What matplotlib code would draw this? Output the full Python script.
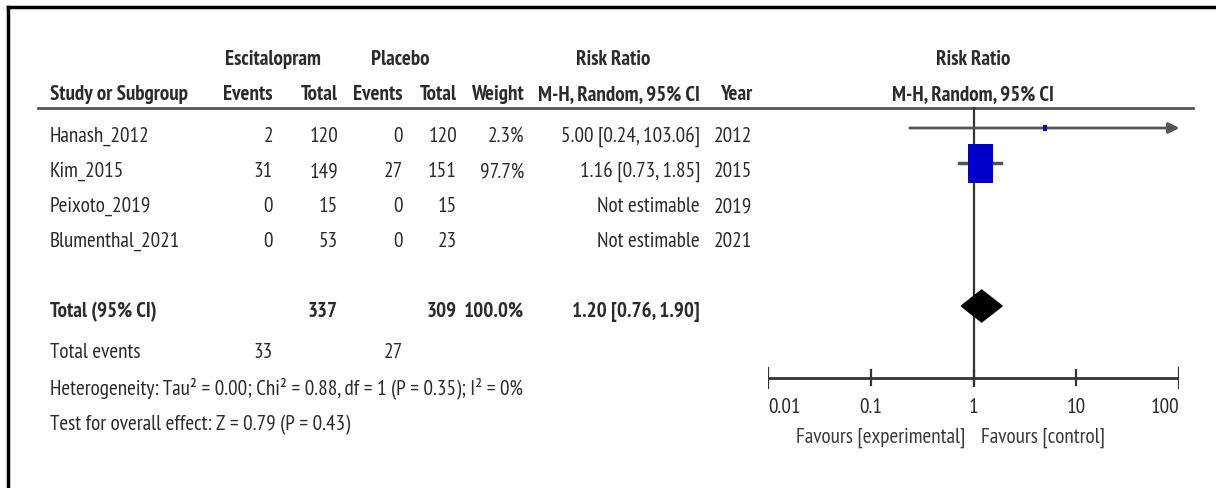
import numpy as np
import matplotlib
matplotlib.use("Agg")
import matplotlib.pyplot as plt
from matplotlib import font_manager as fm
from matplotlib.font_manager import FontProperties
from matplotlib.textpath import TextPath
from matplotlib.patches import Rectangle, Polygon

# ---- data ----
studies = ["Hanash_2012", "Kim_2015", "Peixoto_2019", "Blumenthal_2021"]
esc_events = [2, 31, 0, 0]
esc_total = [120, 149, 15, 53]
pla_events = [0, 27, 0, 0]
pla_total = [120, 151, 15, 23]
weights = [2.3, 97.7, None, None]
rr = [5.00, 1.16, None, None]
rr_lo = [0.24, 0.73, None, None]
rr_hi = [103.06, 1.85, None, None]
years = [2012, 2015, 2019, 2021]

total_esc = 337
total_pla = 309
total_weight = 100.0
total_rr, total_lo, total_hi = 1.20, 0.76, 1.90
events_esc, events_pla = 33, 27
heterogeneity = "Heterogeneity: Tau\u00b2 = 0.00; Chi\u00b2 = 0.88, df = 1 (P = 0.35); I\u00b2 = 0%"
overall = "Test for overall effect: Z = 0.79 (P = 0.43)"
tick_vals = [0.01, 0.1, 1, 10, 100]
tick_labels = ["0.01", "0.1", "1", "10", "100"]

# narrow sans, like the RevMan export
available = {f.name for f in fm.fontManager.ttflist}
family = "Liberation Sans"
for cand in ["Liberation Sans Narrow", "Arial Narrow", "PT Sans Narrow", "Asap Condensed",
             "Roboto Condensed", "Archivo Narrow"]:
    if cand in available:
        family = cand
        break
plt.rcParams["font.family"] = [family, "DejaVu Sans"]


def fit_size(s, px, weight="normal"):
    # font size that makes s about px pixels wide at 100 dpi
    w10 = TextPath((0, 0), s, size=10,
                   prop=FontProperties(family=family, weight=weight)).get_extents().width
    return 10 * px / (w10 * 100 / 72)


FS = fit_size(heterogeneity, 472)
FSB = fit_size("M-H, Random, 95% CI", 160, "bold")
TXT = "#2b2b2b"
LINE = "#555555"

fig = plt.figure(figsize=(12.16, 4.88), dpi=100)
ax = fig.add_axes([0, 0, 1, 1])
ax.set_xlim(0, 1216)
ax.set_ylim(488, 0)
ax.axis("off")

# frame (left + top)
ax.plot([8, 8], [488, 7], color="black", lw=2.5, solid_capstyle="projecting")
ax.plot([8, 1215], [7, 7], color="black", lw=2.5, solid_capstyle="projecting")


def t(x, y, s, ha="left", bold=False, color=TXT):
    ax.text(x, y, s, ha=ha, va="baseline", color=color,
            fontsize=FSB if bold else FS, fontweight="bold" if bold else "normal")


# headers
t(273, 65, "Escitalopram", ha="center", bold=True)
t(400, 65, "Placebo", ha="center", bold=True)
t(613, 65, "Risk Ratio", ha="center", bold=True)
t(973, 65, "Risk Ratio", ha="center", bold=True)
t(50, 100, "Study or Subgroup", bold=True)
t(273, 100, "Events", ha="right", bold=True)
t(338, 100, "Total", ha="right", bold=True)
t(403, 100, "Events", ha="right", bold=True)
t(457, 100, "Total", ha="right", bold=True)
t(524, 100, "Weight", ha="right", bold=True)
t(700, 100, "M-H, Random, 95% CI", ha="right", bold=True)
t(752, 100, "Year", ha="right", bold=True)
t(973, 100, "M-H, Random, 95% CI", ha="center", bold=True)
ax.plot([38, 1193], [108, 108], color=LINE, lw=2)

# study rows
row_base = [142, 177, 212, 247]
for i, name in enumerate(studies):
    yb = row_base[i]
    t(50, yb, name)
    t(273, yb, str(esc_events[i]), ha="right")
    t(338, yb, str(esc_total[i]), ha="right")
    t(403, yb, str(pla_events[i]), ha="right")
    t(457, yb, str(pla_total[i]), ha="right")
    if weights[i] is not None:
        t(524, yb, f"{weights[i]:.1f}%", ha="right")
        t(700, yb, f"{rr[i]:.2f} [{rr_lo[i]:.2f}, {rr_hi[i]:.2f}]", ha="right")
    else:
        t(700, yb, "Not estimable", ha="right")
    t(752, yb, str(years[i]), ha="right")

# totals
t(50, 317, "Total (95% CI)", bold=True)
t(338, 317, str(total_esc), ha="right", bold=True)
t(457, 317, str(total_pla), ha="right", bold=True)
t(524, 317, f"{total_weight:.1f}%", ha="right", bold=True)
t(700, 317, f"{total_rr:.2f} [{total_lo:.2f}, {total_hi:.2f}]", ha="right", bold=True)
t(50, 358, "Total events")
t(273, 358, str(events_esc), ha="right")
t(403, 358, str(events_pla), ha="right")
t(50, 394, heterogeneity)
t(50, 430, overall)

# ---- forest panel on a log scale ----
fx0, fx1 = 768, 1179
fax = fig.add_axes([fx0 / 1216, 0, (fx1 - fx0) / 1216, 1])
fax.set_xscale("log")
fax.set_xlim(tick_vals[0], tick_vals[-1])
fax.set_ylim(488, 0)
fax.axis("off")
fax.patch.set_alpha(0)
px_per_dec = (fx1 - fx0) / 4.0

mark_y = [128, 163, 198, 233]
kim_box_w = 25.0
for i in range(len(studies)):
    if rr[i] is None:
        continue
    y = mark_y[i]
    if rr_hi[i] > tick_vals[-1]:
        fax.annotate("", xy=(tick_vals[-1] * 1.01, y), xytext=(rr_lo[i], y),
                     arrowprops=dict(arrowstyle="-|>", color=LINE, lw=2,
                                     mutation_scale=16, shrinkA=0, shrinkB=0))
    else:
        fax.plot([rr_lo[i], rr_hi[i]], [y, y], color=LINE, lw=2.5)
    # box area proportional to weight
    w_px = kim_box_w * np.sqrt(weights[i] / 97.7)
    h_px = w_px * 39 / 25
    hw = w_px / 2 / px_per_dec
    c = np.log10(rr[i])
    fax.add_patch(Rectangle((10 ** (c - hw), y - h_px / 2),
                            10 ** (c + hw) - 10 ** (c - hw), h_px,
                            facecolor="#0000c8", edgecolor="none", zorder=3))

# vertical line of no effect
fax.plot([1, 1], [108, 386], color="#333333", lw=1.6, zorder=2)

# summary diamond
dy = 306
fax.add_patch(Polygon([(total_lo, dy), (total_rr, dy - 16), (total_hi, dy), (total_rr, dy + 16)],
                      closed=True, facecolor="black", edgecolor="black", zorder=4))

# axis
fax.plot([tick_vals[0], tick_vals[-1]], [378, 378], color="#333333", lw=2)
for k, (v, lab) in enumerate(zip(tick_vals, tick_labels)):
    top, bot = (368, 388) if k in (0, len(tick_vals) - 1) else (370, 385)
    fax.plot([v, v], [top, bot], color="#333333", lw=1.6)
    ha = "left" if k == 0 else ("right" if k == len(tick_vals) - 1 else "center")
    fax.text(v, 413, lab, ha=ha, va="baseline", color=TXT, fontsize=FS)

t(965, 443, "Favours [experimental]", ha="right", color="#3a3a3a")
t(981, 443, "Favours [control]", color="#3a3a3a")

fig.savefig("out.png", dpi=100, facecolor="white")
